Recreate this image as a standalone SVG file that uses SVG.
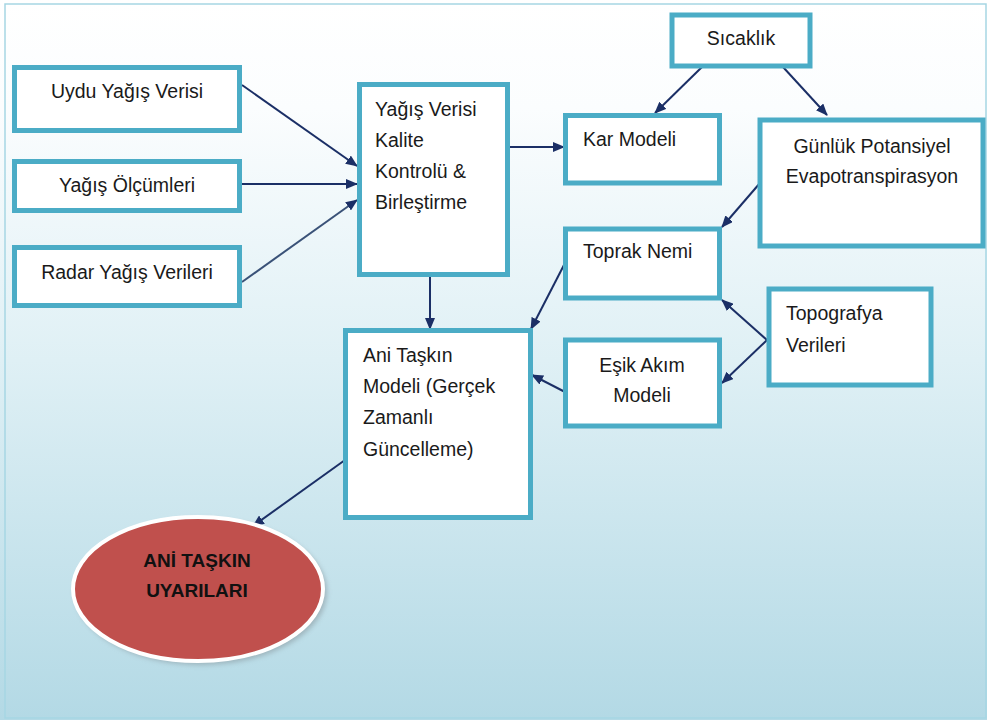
<svg xmlns="http://www.w3.org/2000/svg" width="987" height="720" viewBox="0 0 987 720">
<defs>
<linearGradient id="bg" x1="0" y1="0" x2="0" y2="1">
<stop offset="0" stop-color="#ffffff"/>
<stop offset="0.15" stop-color="#fbfdfe"/>
<stop offset="0.5" stop-color="#dff0f5"/>
<stop offset="1" stop-color="#b3d9e5"/>
</linearGradient>
<marker id="ah" viewBox="0 0 12 10" refX="11" refY="5" markerWidth="12" markerHeight="10" markerUnits="userSpaceOnUse" orient="auto">
<path d="M0,0 L12,5 L0,10 Z" fill="#1b2f66"/>
</marker>
<filter id="sh" x="-20%" y="-20%" width="140%" height="140%">
<feGaussianBlur stdDeviation="2.5"/>
</filter>
<style>
.box{fill:#ffffff;stroke:#4bacc6;stroke-width:5}
.t{font-family:"Liberation Sans",Arial,sans-serif;font-size:19.5px;fill:#1a1a1a}
.c{text-anchor:middle}
.b{font-weight:bold;font-size:19px;fill:#111}
.con{fill:none;stroke:#1b2f66;stroke-width:2;marker-end:url(#ah)}
</style>
</defs>
<rect x="0" y="0" width="987" height="720" fill="url(#bg)"/>
<rect x="5" y="4" width="981" height="714" fill="none" stroke="#a6d6e3" stroke-width="1.5"/>

<g id="connectors">
<line class="con" x1="242" y1="85" x2="357" y2="166"/>
<line class="con" x1="242" y1="184" x2="357" y2="184"/>
<line class="con" x1="242" y1="282" x2="357" y2="200" style="stroke:#3a5278"/>
<line class="con" x1="507" y1="147" x2="564" y2="147"/>
<line class="con" x1="430" y1="259" x2="430" y2="329"/>
<line class="con" x1="702" y1="67" x2="655" y2="113"/>
<line class="con" x1="783" y1="67" x2="827" y2="115"/>
<line class="con" x1="760" y1="183" x2="722" y2="227"/>
<line class="con" x1="565" y1="263" x2="531" y2="329"/>
<line class="con" x1="767" y1="340" x2="722" y2="300"/>
<line class="con" x1="767" y1="340" x2="722" y2="383"/>
<line class="con" x1="567" y1="393" x2="532" y2="375"/>
<line class="con" x1="345" y1="460" x2="253" y2="526"/>
</g>

<g id="uydu">
<rect class="box" x="14.5" y="67.5" width="225" height="63"/>
<text class="t c" x="127" y="98">Uydu Yağış Verisi</text>
</g>
<g id="olcumleri">
<rect class="box" x="14.5" y="161.5" width="225" height="49"/>
<text class="t c" x="127" y="192">Yağış Ölçümleri</text>
</g>
<g id="radar">
<rect class="box" x="14.5" y="247.5" width="225" height="58"/>
<text class="t c" x="127" y="279">Radar Yağış Verileri</text>
</g>
<g id="kalite">
<rect class="box" x="359.5" y="84.5" width="148" height="190"/>
<text class="t" x="375" y="116">Yağış Verisi</text>
<text class="t" x="375" y="147">Kalite</text>
<text class="t" x="375" y="178">Kontrolü &amp;</text>
<text class="t" x="375" y="209">Birleştirme</text>
</g>
<g id="sicaklik">
<rect class="box" x="672" y="15" width="138" height="51"/>
<text class="t c" x="741" y="45">Sıcaklık</text>
</g>
<g id="kar">
<rect class="box" x="565.5" y="115.5" width="154" height="67.5"/>
<text class="t" x="583" y="146">Kar Modeli</text>
</g>
<g id="gunluk">
<rect class="box" x="760" y="120" width="223" height="126"/>
<text class="t c" x="872" y="153">Günlük Potansiyel</text>
<text class="t c" x="872" y="183">Evapotranspirasyon</text>
</g>
<g id="toprak">
<rect class="box" x="565.5" y="229" width="154" height="69"/>
<text class="t" x="583" y="258">Toprak Nemi</text>
</g>
<g id="topografya">
<rect class="box" x="769" y="289" width="162" height="96"/>
<text class="t" x="786" y="320">Topografya</text>
<text class="t" x="786" y="352">Verileri</text>
</g>
<g id="esik">
<rect class="box" x="565.5" y="340" width="154" height="86"/>
<text class="t c" x="642" y="372">Eşik Akım</text>
<text class="t c" x="642" y="402">Modeli</text>
</g>
<g id="ani">
<rect class="box" x="345.5" y="330.5" width="185" height="187"/>
<text class="t" x="363" y="362">Ani Taşkın</text>
<text class="t" x="363" y="393">Modeli (Gerçek</text>
<text class="t" x="363" y="424">Zamanlı</text>
<text class="t" x="363" y="456">Güncelleme)</text>
</g>
<g id="uyarilar">
<ellipse cx="201" cy="592" rx="126" ry="73" fill="#8a9aa0" opacity="0.6" filter="url(#sh)"/>
<ellipse cx="198" cy="589" rx="125" ry="72" fill="#c0504d" stroke="#ffffff" stroke-width="4"/>
<text class="t c b" x="197" y="567">ANİ TAŞKIN</text>
<text class="t c b" x="197" y="597">UYARILARI</text>
</g>
</svg>
